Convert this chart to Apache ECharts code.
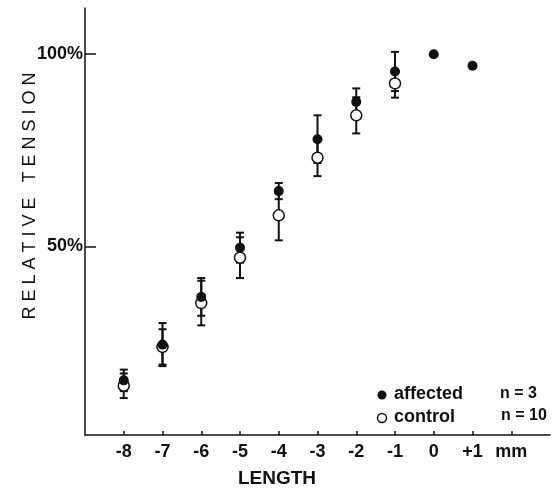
<!DOCTYPE html>
<html><head><meta charset="utf-8">
<script src="https://cdn.jsdelivr.net/npm/echarts@6/dist/echarts.min.js"></script>
<style>html,body{margin:0;padding:0;background:#fff}#c{width:554px;height:490px}</style>
</head><body><div id="c"></div>
<script>
const xValues = [-8, -7, -6, -5, -4, -3, -2, -1, 0, 1];
const affected = [15.2, 24.5, 36.9, 49.7, 64.4, 77.9, 87.6, 95.5, 100, 97];
const affectedErr = [2.8, 5.6, 4.9, 3.9, 2.1, 6.2, 3.5, 5.1, 0, 0];
const controlX = [-8, -7, -6, -5, -4, -3, -2, -1];
const control = [13.8, 23.9, 35.3, 47.1, 58.1, 73.1, 84.1, 92.4];
const controlErr = [3.2, 4.6, 5.8, 5.3, 6.5, 4.8, 4.7, 3.7];
const xTickValues = [-8, -7, -6, -5, -4, -3, -2, -1, 0, 1, 2];
const xTickLabels = ['-8', '-7', '-6', '-5', '-4', '-3', '-2', '-1', '0', '+1', 'mm'];
const yTickValues = [50, 100];
const yTickLabels = ['50%', '100%'];

const FONT = '"Liberation Sans", Arial, sans-serif';
const INK = '#111';

const affPts = xValues.map((x, i) => [x, affected[i]]);
const ctlPts = controlX.map((x, i) => [x, control[i]]);
const errData = [];
xValues.forEach((x, i) => { if (affectedErr[i] > 0) errData.push([x, affected[i] - affectedErr[i], affected[i] + affectedErr[i]]); });
controlX.forEach((x, i) => errData.push([x, control[i] - controlErr[i], control[i] + controlErr[i]]));

function renderErr(params, api) {
  const x = api.value(0);
  const lo = api.coord([x, api.value(1)]);
  const hi = api.coord([x, api.value(2)]);
  const w = 4;
  const st = { stroke: INK, lineWidth: 2 };
  return { type: 'group', children: [
    { type: 'line', shape: { x1: hi[0], y1: hi[1], x2: lo[0], y2: lo[1] }, style: st },
    { type: 'line', shape: { x1: hi[0] - w, y1: hi[1], x2: hi[0] + w, y2: hi[1] }, style: st },
    { type: 'line', shape: { x1: lo[0] - w, y1: lo[1], x2: lo[0] + w, y2: lo[1] }, style: st }
  ]};
}

const chart = echarts.init(document.getElementById('c'), null, { renderer: 'canvas' });
chart.setOption({
  animation: false,
  backgroundColor: '#fff',
  grid: { left: 85, right: 4, top: 8, bottom: 55, containLabel: false },
  xAxis: {
    type: 'value', min: -9, max: 3,
    axisLine: { show: true, onZero: false, lineStyle: { color: INK, width: 1.5 } },
    splitLine: { show: false },
    axisTick: { show: true, inside: true, length: 4, customValues: xTickValues, lineStyle: { color: INK, width: 1.5 } },
    axisLabel: { customValues: xTickValues, margin: 8, color: INK, fontFamily: FONT, fontWeight: 'bold', fontSize: 18,
      formatter: v => xTickLabels[xTickValues.indexOf(v)] }
  },
  yAxis: {
    type: 'value', min: 1, max: 112,
    axisLine: { show: true, onZero: false, lineStyle: { color: INK, width: 1.5 } },
    splitLine: { show: false },
    axisTick: { show: true, inside: true, length: 11, customValues: yTickValues, lineStyle: { color: INK, width: 1.5 } },
    axisLabel: { customValues: yTickValues, margin: 2, color: INK, fontFamily: FONT, fontWeight: 'bold', fontSize: 18,
      formatter: v => yTickLabels[yTickValues.indexOf(v)] }
  },
  series: [
    { type: 'custom', name: 'err', data: errData, renderItem: renderErr, z: 1, silent: true },
    { type: 'scatter', name: 'control', data: ctlPts, symbol: 'circle', symbolSize: 11,
      itemStyle: { color: '#fff', borderColor: INK, borderWidth: 1.5, opacity: 1 }, z: 2 },
    { type: 'scatter', name: 'affected', data: affPts, symbol: 'circle', symbolSize: 10,
      itemStyle: { color: INK, opacity: 1 }, z: 3 }
  ],
  graphic: [
    { type: 'text', x: 277, y: 479, style: { text: 'LENGTH', align: 'center', verticalAlign: 'middle', fill: INK, font: 'bold 19px ' + FONT } },
    { type: 'text', x: 30, y: 196, rotation: Math.PI / 2, style: { text: 'R E L A T I V E   T E N S I O N', align: 'center', verticalAlign: 'middle', fill: INK, font: '18px ' + FONT } },
    { type: 'circle', shape: { cx: 382, cy: 395, r: 4.5 }, style: { fill: INK } },
    { type: 'circle', shape: { cx: 382, cy: 418, r: 4.5 }, style: { fill: '#fff', stroke: INK, lineWidth: 1.5 } },
    { type: 'text', x: 394, y: 394, style: { text: 'affected', align: 'left', verticalAlign: 'middle', fill: INK, font: 'bold 18px ' + FONT } },
    { type: 'text', x: 394, y: 417, style: { text: 'control', align: 'left', verticalAlign: 'middle', fill: INK, font: 'bold 18px ' + FONT } },
    { type: 'text', x: 500, y: 394, style: { text: 'n = 3', align: 'left', verticalAlign: 'middle', fill: INK, font: 'bold 16px ' + FONT } },
    { type: 'text', x: 501, y: 416, style: { text: 'n = 10', align: 'left', verticalAlign: 'middle', fill: INK, font: 'bold 16px ' + FONT } }
  ]
});
</script></body></html>
